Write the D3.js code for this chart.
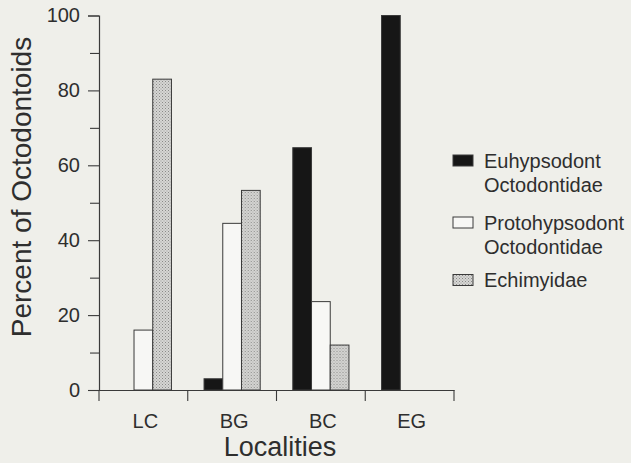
<!DOCTYPE html>
<html>
<head>
<meta charset="utf-8">
<script src="https://cdn.jsdelivr.net/npm/d3@7"></script>
<style>
  html, body { margin: 0; padding: 0; background: #efefea; }
  svg { display: block; }
  text { font-family: "Liberation Sans", Arial, sans-serif; fill: #2e2e2e; }
</style>
</head>
<body>
<svg id="chart" width="631" height="463"></svg>
<script>
const categories = ["LC", "BG", "BC", "EG"];
const seriesNames = ["Euhypsodont Octodontidae", "Protohypsodont Octodontidae", "Echimyidae"];
const legendLines = [["Euhypsodont", "Octodontidae"], ["Protohypsodont", "Octodontidae"], ["Echimyidae"]];
const euhypsodont = [0, 3, 64.7, 100];
const protohypsodont = [16, 44.5, 23.6, 0];
const echimyidae = [83, 53.3, 12, 0];
const yTicks = [0, 10, 20, 30, 40, 50, 60, 70, 80, 90, 100];
const yLabel = "Percent of Octodontoids";
const xLabel = "Localities";

const seriesValues = [euhypsodont, protohypsodont, echimyidae];
const fills = ["#161616", "#f7f7f5", "url(#stipple)"];

const svg = d3.select("#chart");
const defs = svg.append("defs");
const pat = defs.append("pattern").attr("id", "stipple")
  .attr("width", 3).attr("height", 3).attr("patternUnits", "userSpaceOnUse");
pat.append("rect").attr("width", 3).attr("height", 3).attr("fill", "#d6d6d4");
pat.append("rect").attr("x", 0).attr("y", 0).attr("width", 1).attr("height", 1).attr("fill", "#8a8a88");
pat.append("rect").attr("x", 1.5).attr("y", 1.5).attr("width", 1).attr("height", 1).attr("fill", "#9a9a98");

const x0 = d3.scaleBand().domain(categories).range([99, 454]).paddingInner(0).paddingOuter(0);
const x1 = d3.scaleBand().domain(d3.range(seriesNames.length)).range([0, x0.bandwidth()]).paddingInner(0).paddingOuter(0.87);
const y = d3.scaleLinear().domain([0, 100]).range([390, 15.5]);

// bars
const groups = svg.append("g").selectAll("g").data(categories).join("g")
  .attr("transform", d => `translate(${x0(d)},0)`);
groups.selectAll("rect")
  .data((c, ci) => seriesValues.map((vals, si) => ({ si, v: vals[ci] })).filter(d => d.v > 0))
  .join("rect")
  .attr("x", d => x1(d.si))
  .attr("width", x1.bandwidth())
  .attr("y", d => y(d.v))
  .attr("height", d => y(0) - y(d.v))
  .attr("fill", d => fills[d.si])
  .attr("stroke", "#3a3a3a")
  .attr("stroke-width", 1);

// y axis
const yAxis = svg.append("g").attr("transform", "translate(99,0)")
  .call(d3.axisLeft(y).tickValues(yTicks).tickSize(11).tickPadding(8)
    .tickFormat(d => d % 20 === 0 ? d : ""));
yAxis.select(".domain").attr("stroke", "#3a3a3a").attr("stroke-width", 1.2);
yAxis.selectAll(".tick line").attr("stroke", "#3a3a3a").attr("stroke-width", 1.1)
  .attr("x2", d => d % 20 === 0 ? -11 : -9);
yAxis.selectAll(".tick text").style("font-size", "20px").attr("fill", "#2e2e2e")
  .style("font-family", "'Liberation Sans', Arial, sans-serif");

// x axis line and boundary ticks
const xAxis = svg.append("g").attr("transform", "translate(0,390)")
  .call(d3.axisBottom(x0).tickSize(0).tickPadding(24));
xAxis.select(".domain").attr("stroke", "#3a3a3a").attr("stroke-width", 1.2);
xAxis.selectAll(".tick text").style("font-size", "20px").attr("fill", "#2e2e2e")
  .attr("dx", "2px")
  .style("font-family", "'Liberation Sans', Arial, sans-serif");
const bounds = categories.map(c => x0(c)).concat([x0.range()[1]]);
xAxis.append("g").selectAll("line").data(bounds).join("line")
  .attr("x1", d => d).attr("x2", d => d).attr("y1", 0).attr("y2", 11)
  .attr("stroke", "#3a3a3a").attr("stroke-width", 1.1);

// axis titles
svg.append("text").attr("transform", "translate(31,187) rotate(-90)")
  .attr("text-anchor", "middle").style("font-size", "28px").text(yLabel);
svg.append("text").attr("x", 280).attr("y", 456)
  .attr("text-anchor", "middle").style("font-size", "27px").text(xLabel);

// legend
const legendY = [167.5, 229.5, 287];
const lg = svg.append("g").selectAll("g").data(seriesNames).join("g")
  .attr("transform", (d, i) => `translate(0,${legendY[i]})`);
lg.append("rect").attr("x", 453).attr("y", -12.5).attr("width", 20).attr("height", 11)
  .attr("fill", (d, i) => fills[i]).attr("stroke", "#3a3a3a").attr("stroke-width", 1);
lg.append("text").attr("x", 484).attr("y", 0).style("font-size", "20px")
  .selectAll("tspan").data((d, i) => legendLines[i]).join("tspan")
  .attr("x", 484).attr("dy", (d, j) => j === 0 ? 0 : 24).text(d => d);
</script>
</body>
</html>
